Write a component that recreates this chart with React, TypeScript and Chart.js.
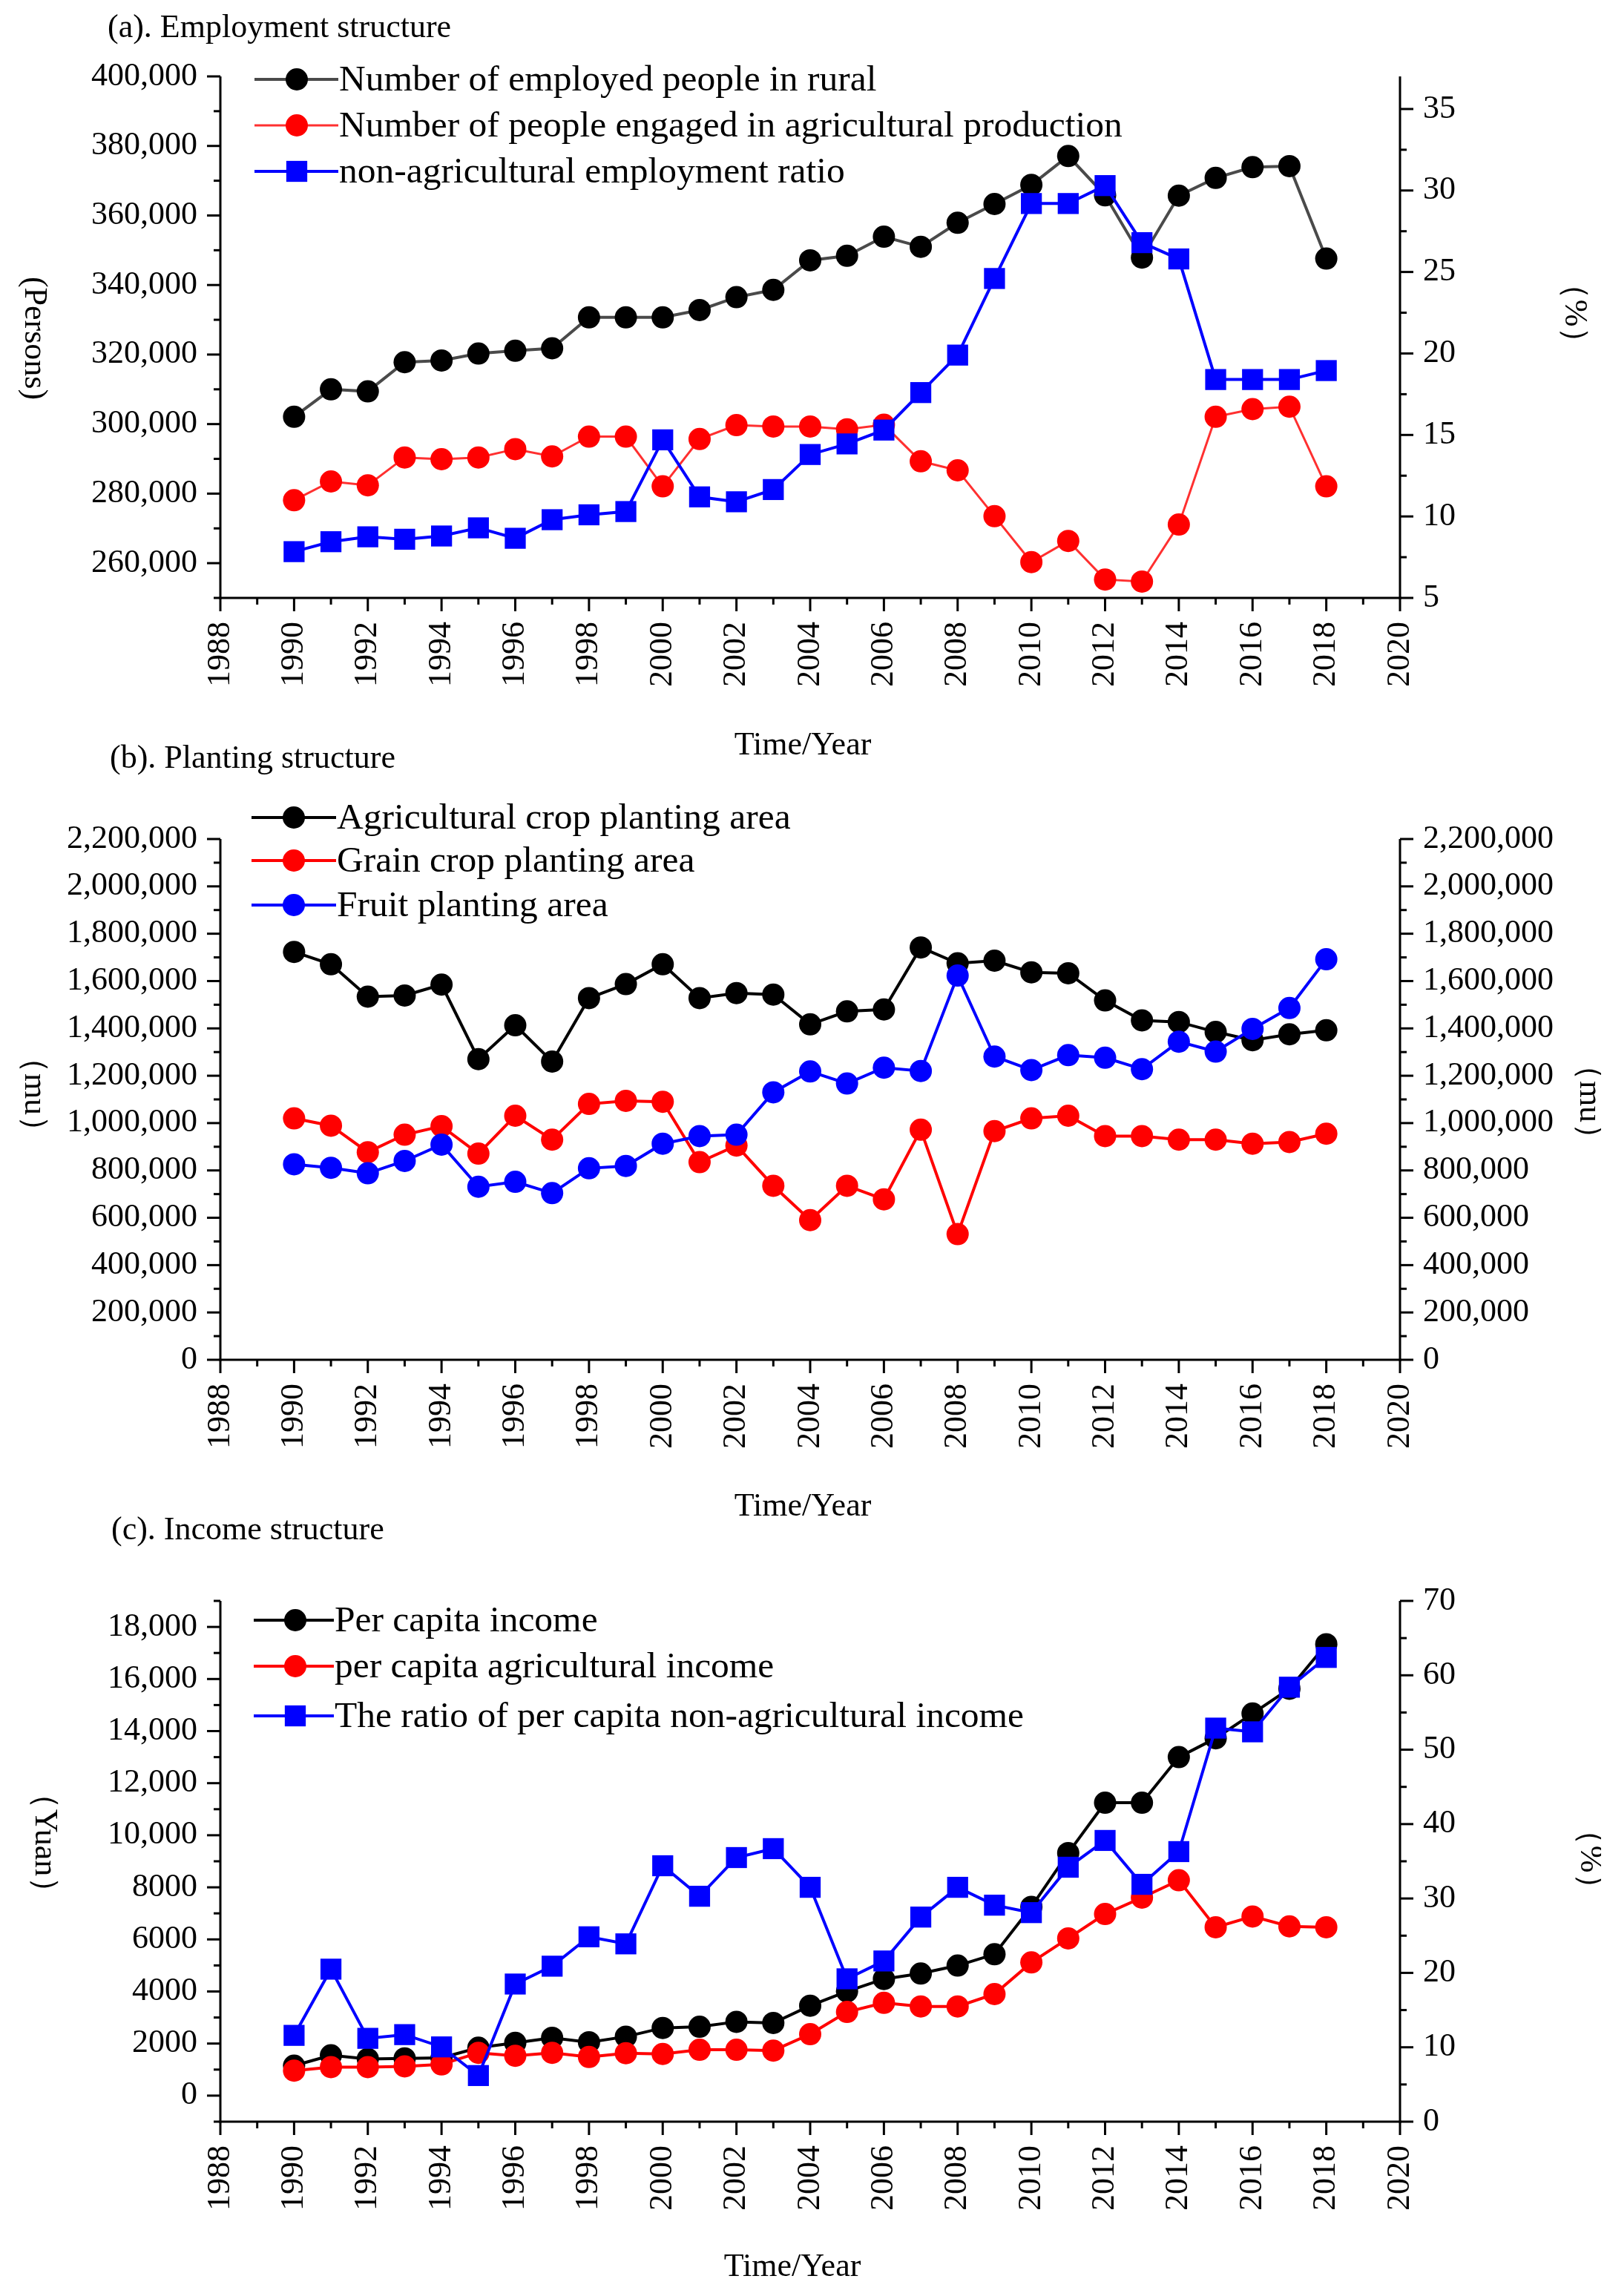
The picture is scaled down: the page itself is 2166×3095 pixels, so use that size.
import React, { useEffect, useRef } from 'react';
import { Chart, registerables } from 'chart.js';

Chart.register(...registerables);

const FONT = "'Liberation Serif', 'Times New Roman', Times, serif";
const W = 2150;

// ---------- shared x axis ----------
const years = [1990, 1991, 1992, 1993, 1994, 1995, 1996, 1997, 1998, 1999, 2000, 2001, 2002, 2003, 2004, 2005, 2006, 2007, 2008, 2009, 2010, 2011, 2012, 2013, 2014, 2015, 2016, 2017, 2018];
const xTickLabels = [1988, 1990, 1992, 1994, 1996, 1998, 2000, 2002, 2004, 2006, 2008, 2010, 2012, 2014, 2016, 2018, 2020];
const xMinorTicks = [1989, 1991, 1993, 1995, 1997, 1999, 2001, 2003, 2005, 2007, 2009, 2011, 2013, 2015, 2017, 2019];

// ---------- (a) Employment structure ----------
const ruralEmployed = [302100, 310000, 309400, 317800, 318300, 320300, 321100, 321800, 330700, 330700, 330700, 332800, 336500, 338600, 347100, 348400, 353900, 351000, 357900, 363300, 368800, 377100, 365800, 347900, 365700, 370800, 373900, 374200, 347600];
const agriEmployed = [278100, 283500, 282400, 290400, 289900, 290400, 292800, 290700, 296400, 296400, 282100, 295700, 299700, 299300, 299300, 298500, 299800, 289300, 286700, 273500, 260300, 266400, 255300, 254700, 271100, 302100, 304300, 305000, 282100];
const nonAgriEmploymentRatio = [7.84, 8.45, 8.75, 8.6, 8.8, 9.3, 8.66, 9.8, 10.1, 10.3, 14.7, 11.2, 10.9, 11.65, 13.8, 14.45, 15.3, 17.6, 19.9, 24.6, 29.2, 29.2, 30.3, 26.8, 25.8, 18.4, 18.4, 18.4, 18.95];
const aLeftTicks = [260000, 280000, 300000, 320000, 340000, 360000, 380000, 400000];
const aLeftMinor = [250000, 270000, 290000, 310000, 330000, 350000, 370000, 390000];
const aRightTicks = [5, 10, 15, 20, 25, 30, 35];
const aRightMinor = [7.5, 12.5, 17.5, 22.5, 27.5, 32.5];

// ---------- (b) Planting structure ----------
const cropArea = [1723000, 1671000, 1534000, 1539000, 1585000, 1270000, 1413000, 1260000, 1528000, 1587000, 1671000, 1528000, 1549000, 1543000, 1417000, 1472000, 1480000, 1742000, 1675000, 1686000, 1637000, 1633000, 1518000, 1434000, 1427000, 1385000, 1350000, 1375000, 1392000];
const grainArea = [1020000, 989000, 877000, 951000, 987000, 871000, 1031000, 930000, 1081000, 1094000, 1090000, 835000, 905000, 735000, 590000, 735000, 678000, 972000, 531000, 966000, 1020000, 1031000, 945000, 945000, 930000, 930000, 913000, 920000, 955000];
const fruitArea = [826000, 811000, 788000, 840000, 909000, 731000, 752000, 704000, 809000, 819000, 913000, 945000, 951000, 1130000, 1218000, 1167000, 1234000, 1220000, 1623000, 1281000, 1224000, 1287000, 1276000, 1228000, 1344000, 1302000, 1398000, 1486000, 1692000];
const bTicks = [0, 200000, 400000, 600000, 800000, 1000000, 1200000, 1400000, 1600000, 1800000, 2000000, 2200000];
const bMinor = [100000, 300000, 500000, 700000, 900000, 1100000, 1300000, 1500000, 1700000, 1900000, 2100000];

// ---------- (c) Income structure ----------
const perCapitaIncome = [1150, 1550, 1410, 1430, 1450, 1840, 2030, 2220, 2050, 2265, 2600, 2645, 2835, 2790, 3455, 4005, 4480, 4690, 4995, 5430, 7250, 9315, 11250, 11250, 13000, 13725, 14675, 15625, 17335];
const perCapitaAgriIncome = [960, 1095, 1095, 1125, 1200, 1645, 1530, 1645, 1485, 1630, 1600, 1760, 1760, 1730, 2360, 3215, 3565, 3425, 3425, 3900, 5115, 6040, 6975, 7605, 8270, 6465, 6880, 6500, 6465];
const nonAgriIncomeRatio = [11.6, 20.5, 11.2, 11.7, 10.05, 6.2, 18.5, 20.9, 24.85, 23.9, 34.4, 30.3, 35.5, 36.7, 31.5, 19.2, 21.6, 27.5, 31.5, 29.1, 28.1, 34.2, 37.8, 31.9, 36.3, 52.9, 52.4, 58.4, 62.4];
const cLeftTicks = [0, 2000, 4000, 6000, 8000, 10000, 12000, 14000, 16000, 18000];
const cLeftMinor = [-1000, 1000, 3000, 5000, 7000, 9000, 11000, 13000, 15000, 17000, 19000];
const cRightTicks = [0, 10, 20, 30, 40, 50, 60, 70];
const cRightMinor = [5, 15, 25, 35, 45, 55, 65];

// ---------- formatting ----------
const commaFmt = (v: number) => v.toLocaleString('en-US');
const incomeFmt = (v: number) => (v >= 10000 ? v.toLocaleString('en-US') : String(v));
const plainFmt = (v: number) => String(v);

type Series = {
  label: string;
  values: number[];
  axis: 'y' | 'y1';
  color: string;
  lineColor: string;
  lineWidth: number;
  shape: 'circle' | 'rect';
  radius: number;
  order: number;
};

type AxisDef = { min: number; max: number; ticks: number[]; minor: number[]; fmt: (v: number) => string };

type Panel = {
  top: number;
  height: number;
  areaTop: number;
  xHeight: number;
  title: string;
  titlePos: [number, number];
  xTitle: string;
  xTitlePos: [number, number];
  leftTitle: string;
  leftTitlePos: [number, number];
  rightTitle: string;
  rightTitlePos: [number, number];
  legend: { x0: number; x1: number; xm: number; xt: number; rows: number[] };
  left: AxisDef;
  right: AxisDef;
  series: Series[];
};

const BLACK = '#000000';
const RED = '#ff0000';
const BLUE = '#0000ff';
const CIRCLE_R = 15;
const RECT_R = 20;

const panels: Panel[] = [
  {
    top: 8,
    height: 1032,
    areaTop: 95,
    xHeight: 234,
    title: '(a). Employment structure',
    titlePos: [137, 30],
    xTitle: 'Time/Year',
    xTitlePos: [1074, 997],
    leftTitle: '(Persons)',
    leftTitlePos: [38, 448],
    rightTitle: '（%）',
    rightTitlePos: [2114, 414],
    legend: { x0: 335, x1: 448, xm: 392, xt: 449, rows: [99, 161, 223] },
    left: { min: 250000, max: 400000, ticks: aLeftTicks, minor: aLeftMinor, fmt: commaFmt },
    right: { min: 5, max: 37, ticks: aRightTicks, minor: aRightMinor, fmt: plainFmt },
    series: [
      { label: 'Number of employed people in rural', values: ruralEmployed, axis: 'y', color: BLACK, lineColor: '#4a4a4a', lineWidth: 4, shape: 'circle', radius: CIRCLE_R, order: 3 },
      { label: 'Number of people engaged in agricultural production', values: agriEmployed, axis: 'y', color: RED, lineColor: '#ff3030', lineWidth: 3, shape: 'circle', radius: CIRCLE_R, order: 2 },
      { label: 'non-agricultural employment ratio', values: nonAgriEmploymentRatio, axis: 'y1', color: BLUE, lineColor: BLUE, lineWidth: 4, shape: 'rect', radius: RECT_R, order: 1 },
    ],
  },
  {
    top: 1000,
    height: 1070,
    areaTop: 131,
    xHeight: 237,
    title: '(b). Planting structure',
    titlePos: [140, 23],
    xTitle: 'Time/Year',
    xTitlePos: [1074, 1031],
    leftTitle: '（mu）',
    leftTitlePos: [38, 475],
    rightTitle: '（mu）',
    rightTitlePos: [2134, 485],
    legend: { x0: 331, x1: 445, xm: 388, xt: 446, rows: [102, 160, 220] },
    left: { min: 0, max: 2200000, ticks: bTicks, minor: bMinor, fmt: commaFmt },
    right: { min: 0, max: 2200000, ticks: bTicks, minor: bMinor, fmt: commaFmt },
    series: [
      { label: 'Agricultural crop planting area', values: cropArea, axis: 'y', color: BLACK, lineColor: BLACK, lineWidth: 4, shape: 'circle', radius: CIRCLE_R, order: 3 },
      { label: 'Grain crop planting area', values: grainArea, axis: 'y', color: RED, lineColor: RED, lineWidth: 4, shape: 'circle', radius: CIRCLE_R, order: 2 },
      { label: 'Fruit planting area', values: fruitArea, axis: 'y', color: BLUE, lineColor: BLUE, lineWidth: 4, shape: 'circle', radius: CIRCLE_R, order: 1 },
    ],
  },
  {
    top: 2040,
    height: 1055,
    areaTop: 118,
    xHeight: 235,
    title: '(c). Income structure',
    titlePos: [142, 23],
    xTitle: 'Time/Year',
    xTitlePos: [1060, 1016],
    leftTitle: '（Yuan）',
    leftTitlePos: [52, 444],
    rightTitle: '（%）',
    rightTitlePos: [2135, 466],
    legend: { x0: 334, x1: 442, xm: 390, xt: 443, rows: [144, 206, 273] },
    left: { min: -1000, max: 19000, ticks: cLeftTicks, minor: cLeftMinor, fmt: incomeFmt },
    right: { min: 0, max: 70, ticks: cRightTicks, minor: cRightMinor, fmt: plainFmt },
    series: [
      { label: 'Per capita income', values: perCapitaIncome, axis: 'y', color: BLACK, lineColor: BLACK, lineWidth: 4, shape: 'circle', radius: CIRCLE_R, order: 3 },
      { label: 'per capita agricultural income', values: perCapitaAgriIncome, axis: 'y', color: RED, lineColor: RED, lineWidth: 4, shape: 'circle', radius: CIRCLE_R, order: 2 },
      { label: 'The ratio of per capita non-agricultural income', values: nonAgriIncomeRatio, axis: 'y1', color: BLUE, lineColor: BLUE, lineWidth: 4, shape: 'rect', radius: RECT_R, order: 1 },
    ],
  },
];

const MAJOR = 18;
const MINOR = 9;
const TICK_FONT = 44;
const TEXT_FONT = 44;
const LEGEND_FONT = 49.5;

function makeDecor(p: Panel) {
  return {
    id: 'decor',
    afterDraw(chart: any) {
      const ctx: CanvasRenderingContext2D = chart.ctx;
      const a = chart.chartArea;
      const xs = chart.scales.x;
      const yl = chart.scales.y;
      const yr = chart.scales.y1;
      const seg = (x1: number, y1: number, x2: number, y2: number) => {
        ctx.beginPath();
        ctx.moveTo(x1, y1);
        ctx.lineTo(x2, y2);
        ctx.stroke();
      };
      ctx.save();
      ctx.strokeStyle = '#000';
      ctx.lineWidth = 3;
      ctx.lineCap = 'butt';
      // axis lines
      seg(a.left, a.top, a.left, a.bottom + 1.5);
      seg(a.right, a.top, a.right, a.bottom + 1.5);
      seg(a.left - 1.5, a.bottom, a.right + 1.5, a.bottom);
      // x ticks
      xTickLabels.forEach((v) => {
        const px = xs.getPixelForValue(v);
        seg(px, a.bottom, px, a.bottom + MAJOR);
      });
      xMinorTicks.forEach((v) => {
        const px = xs.getPixelForValue(v);
        seg(px, a.bottom, px, a.bottom + MINOR);
      });
      // left ticks
      p.left.ticks.forEach((v) => {
        const py = yl.getPixelForValue(v);
        seg(a.left, py, a.left - MAJOR, py);
      });
      p.left.minor.forEach((v) => {
        const py = yl.getPixelForValue(v);
        seg(a.left, py, a.left - MINOR, py);
      });
      // right ticks
      p.right.ticks.forEach((v) => {
        const py = yr.getPixelForValue(v);
        seg(a.right, py, a.right + MAJOR, py);
      });
      p.right.minor.forEach((v) => {
        const py = yr.getPixelForValue(v);
        seg(a.right, py, a.right + MINOR, py);
      });

      // titles
      ctx.fillStyle = '#000';
      ctx.font = `${TEXT_FONT}px ${FONT}`;
      ctx.textBaseline = 'middle';
      ctx.textAlign = 'left';
      ctx.fillText(p.title, p.titlePos[0], p.titlePos[1]);
      ctx.textAlign = 'center';
      ctx.fillText(p.xTitle, p.xTitlePos[0], p.xTitlePos[1]);
      const rot = (text: string, x: number, y: number) => {
        ctx.save();
        ctx.translate(x, y);
        ctx.rotate(Math.PI / 2);
        ctx.textAlign = 'center';
        ctx.textBaseline = 'middle';
        ctx.fillText(text, 0, 0);
        ctx.restore();
      };
      rot(p.leftTitle, p.leftTitlePos[0], p.leftTitlePos[1]);
      rot(p.rightTitle, p.rightTitlePos[0], p.rightTitlePos[1]);

      // legend
      p.series.forEach((s, i) => {
        const y = p.legend.rows[i];
        ctx.strokeStyle = s.lineColor;
        ctx.lineWidth = s.lineWidth;
        seg(p.legend.x0, y, p.legend.x1, y);
        ctx.fillStyle = s.color;
        ctx.beginPath();
        if (s.shape === 'circle') {
          ctx.arc(p.legend.xm, y, s.radius, 0, Math.PI * 2);
        } else {
          const h = Math.SQRT1_2 * s.radius;
          ctx.rect(p.legend.xm - h, y - h, 2 * h, 2 * h);
        }
        ctx.fill();
        ctx.fillStyle = '#000';
        ctx.font = `${LEGEND_FONT}px ${FONT}`;
        ctx.textAlign = 'left';
        ctx.textBaseline = 'middle';
        ctx.fillText(s.label, p.legend.xt, y + 2);
      });
      ctx.restore();
    },
  };
}

function yScale(def: AxisDef, position: 'left' | 'right', width: number) {
  return {
    type: 'linear',
    position,
    min: def.min,
    max: def.max,
    afterFit: (s: any) => {
      s.width = width;
    },
    afterBuildTicks: (s: any) => {
      s.ticks = def.ticks.map((v) => ({ value: v }));
    },
    grid: { display: false, drawTicks: false, tickLength: 0 },
    border: { display: false },
    ticks: {
      autoSkip: false,
      padding: 31,
      color: '#000',
      font: { family: FONT, size: TICK_FONT },
      callback: (v: any) => def.fmt(Number(v)),
    },
  };
}

function makeConfig(p: Panel): any {
  const areaLeft = 289;
  const areaRight = 1879;
  return {
    type: 'line',
    data: {
      datasets: p.series.map((s) => ({
        label: s.label,
        data: years.map((yr, i) => ({ x: yr, y: s.values[i] })),
        yAxisID: s.axis,
        borderColor: s.lineColor,
        backgroundColor: s.color,
        borderWidth: s.lineWidth,
        pointStyle: s.shape,
        pointRadius: s.radius,
        pointHoverRadius: s.radius,
        pointBackgroundColor: s.color,
        pointBorderColor: s.color,
        pointBorderWidth: 0,
        tension: 0,
        fill: false,
        clip: false,
        order: s.order,
      })),
    },
    options: {
      responsive: false,
      maintainAspectRatio: false,
      animation: false,
      devicePixelRatio: 1,
      events: [],
      layout: { padding: { top: p.areaTop, left: 0, right: 0, bottom: 0 } },
      plugins: {
        legend: { display: false },
        tooltip: { enabled: false },
        title: { display: false },
      },
      scales: {
        x: {
          type: 'linear',
          min: 1988,
          max: 2020,
          afterFit: (s: any) => {
            s.height = p.xHeight;
          },
          afterBuildTicks: (s: any) => {
            s.ticks = xTickLabels.map((v) => ({ value: v }));
          },
          grid: { display: false, drawTicks: false, tickLength: 0 },
          border: { display: false },
          ticks: {
            autoSkip: false,
            minRotation: 90,
            maxRotation: 90,
            padding: 32,
            color: '#000',
            font: { family: FONT, size: TICK_FONT },
            callback: (v: any) => String(v),
          },
        },
        y: yScale(p.left, 'left', areaLeft),
        y1: yScale(p.right, 'right', W - areaRight),
      },
    },
    plugins: [makeDecor(p)],
  };
}

function PanelChart({ p }: { p: Panel }) {
  const ref = useRef<HTMLCanvasElement | null>(null);
  useEffect(() => {
    if (!ref.current) return;
    const chart = new Chart(ref.current, makeConfig(p));
    return () => chart.destroy();
  }, [p]);
  return (
    <canvas
      ref={ref}
      width={W}
      height={p.height}
      style={{ position: 'absolute', left: 0, top: p.top - 8, width: W, height: p.height }}
    />
  );
}

export default function App() {
  return (
    <div style={{ position: 'relative', width: W, height: 3079, overflow: 'hidden', background: '#fff' }}>
      {panels.map((p, i) => (
        <PanelChart key={i} p={p} />
      ))}
    </div>
  );
}
